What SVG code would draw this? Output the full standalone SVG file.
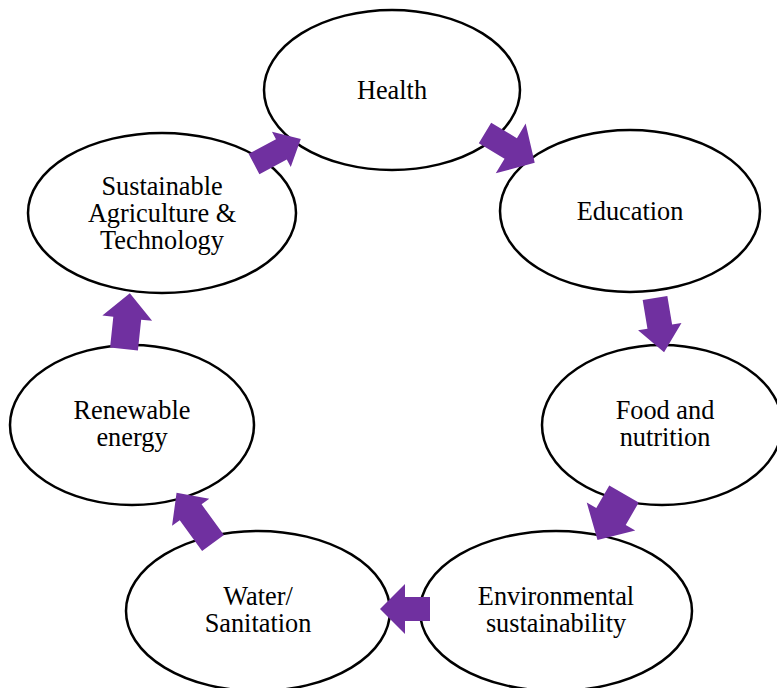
<svg xmlns="http://www.w3.org/2000/svg" width="777" height="688" viewBox="0 0 777 688">
<style>
.n ellipse{fill:#fff;stroke:#000;stroke-width:2.5}
.n text{font-family:'Liberation Serif','Times New Roman',serif;font-size:26.3px;fill:#000;text-anchor:middle}
.a{fill:#7030A0}
</style>
<rect width="777" height="688" fill="#fff"/>
<g id="health" class="n"><ellipse cx="392" cy="90" rx="128" ry="80"/><text x="392" y="99">Health</text></g>
<g id="education" class="n"><ellipse cx="630" cy="211" rx="130" ry="81"/><text x="630" y="220">Education</text></g>
<g id="food" class="n"><ellipse cx="662" cy="425" rx="120" ry="80"/><text x="665" y="419">Food and</text><text x="665" y="446">nutrition</text></g>
<g id="environment" class="n"><ellipse cx="556" cy="611" rx="136" ry="80"/><text x="556" y="605">Environmental</text><text x="556" y="632">sustainability</text></g>
<g id="water" class="n"><ellipse cx="258" cy="611" rx="132" ry="80"/><text x="258" y="605">Water/</text><text x="258" y="632">Sanitation</text></g>
<g id="renewable" class="n"><ellipse cx="132" cy="425" rx="122" ry="80"/><text x="132" y="419">Renewable</text><text x="132" y="446">energy</text></g>
<g id="agriculture" class="n"><ellipse cx="162" cy="213" rx="134" ry="80"/><text x="162" y="195">Sustainable</text><text x="162" y="222">Agriculture &amp;</text><text x="162" y="249">Technology</text></g>
<g id="connectors" class="a">
<path transform="translate(254,164) rotate(-28)" d="M0,-11.5 H31 V-20 L53,0 L31,20 V11.5 H0 Z"/>
<path transform="translate(485,133) rotate(31)" d="M0,-12 H30 V-29 L58,0 L30,29 V12 H0 Z"/>
<path transform="translate(655,298) rotate(80.5)" d="M0,-12.5 H29 V-22 L55,0 L29,22 V12.5 H0 Z"/>
<path transform="translate(624,494) rotate(120)" d="M0,-17 H26 V-28 L53,0 L26,28 V17 H0 Z"/>
<path transform="translate(430,609) rotate(180)" d="M0,-12 H25 V-25 L50,0 L25,25 V12 H0 Z"/>
<path transform="translate(213,543) rotate(234)" d="M0,-13.5 H38 V-23 L62,0 L38,23 V13.5 H0 Z"/>
<path transform="translate(124,349) rotate(-84)" d="M0,-14 H31 V-25 L56,0 L31,25 V14 H0 Z"/>
</g>
</svg>
